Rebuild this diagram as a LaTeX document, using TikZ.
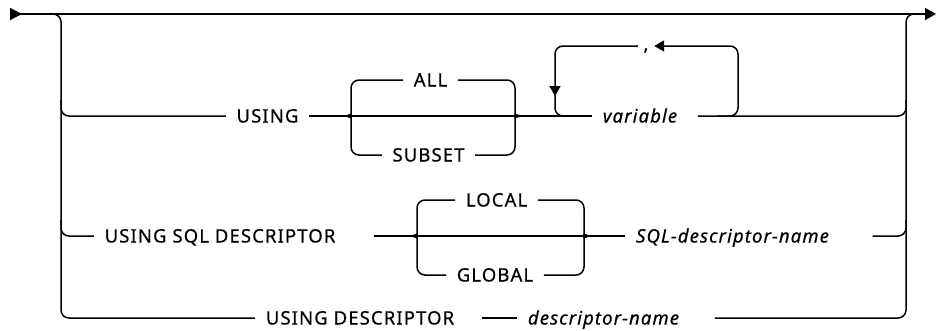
\documentclass[tikz,border=0pt]{standalone}
\usepackage{fontspec}
\setmainfont{Noto Sans}[LetterSpace=6, FakeBold=0.5]
\usepackage{tikz}
\usetikzlibrary{calc}
\usetikzlibrary{arrows.meta}

\tikzset{
    rr/.style={rounded corners=8pt},
    kw/.style={inner xsep=10pt, inner ysep=0pt, text height=13pt, text depth=0pt,
        font=\fontsize{18.5}{22}\selectfont},
    var/.style={kw, font=\fontsize{18.5}{22}\selectfont\itshape},
    tipsmall/.style={-{Triangle[length=10pt,width=11pt]}}
}

\begin{document}
\begin{tikzpicture}[x=1pt, y=-1pt, line width=1.5pt]
            \useasboundingbox (0,0) rectangle (936,330);

            % keywords and variables
            \node[kw] (kwusing) at (267.5,116) {USING};
            \node[kw] (kwall) at (430.5,80) {ALL};
            \node[kw] (kwsubset) at (428.5,155) {SUBSET};
            \node[var] (varname) at (640,116) {variable};
            \node[kw, inner xsep=5pt, text height=9pt] (comma) at (646,46) {,};
            \node[kw] (kwsql) at (220,236) {USING SQL DESCRIPTOR};
            \node[kw] (kwlocal) at (496.5,200) {LOCAL};
            \node[kw] (kwglobal) at (495,275) {GLOBAL};
            \node[var] (sqlname) at (732.5,236) {SQL-descriptor-name};
            \node[kw] (kwdesc) at (360,318) {USING DESCRIPTOR};
            \node[var] (descname) at (603.5,318) {descriptor-name};

            \coordinate (start) at (10,14);
            \coordinate (finish) at (936,14);
            \coordinate (lsplit) at (49,14);
            \coordinate (rjoin) at (918,14);
            \coordinate (b1l) at (344,116);
            \coordinate (b1r) at (522,116);
            \coordinate (b2l) at (410,236);
            \coordinate (b2r) at (591,236);
            \coordinate (loopl) at (577,116);
            \coordinate (loopr) at (718,116);

            % main line
            \draw[{Triangle[reversed,length=12pt,width=12pt]}-{Triangle[length=11pt,width=12pt]}] (start) -- (finish);

            % left split
            \draw[rr] (lsplit) -| (61,318) -- (kwdesc.west);
            \draw[rr] (61,100) |- (kwusing.west);
            \draw[rr] (61,220) |- (kwsql.west);

            % USING row
            \draw (kwusing.east) -- (varname.west);
            \draw[rr] (b1l) .. controls +(6,0) and +(0,6) .. ++(7,-9) |- (kwall.west);
            \draw[rr] (b1l) .. controls +(6,0) and +(0,-6) .. ++(7,9) |- (kwsubset.west);
            \draw[rr] (b1r) .. controls +(-6,0) and +(0,6) .. ++(-7,-9) |- (kwall.east);
            \draw[rr] (b1r) .. controls +(-6,0) and +(0,-6) .. ++(-7,9) |- (kwsubset.east);
            \draw[rr, tipsmall] (loopr) -| (738,46) -- (comma.east);
            \draw[rr, tipsmall] (comma.west) -| (555,96);
            \draw[rr] (555,92) |- (loopl);
            \draw[rr] ($(varname.east)+(10,0)$) -| (906,100);

            % USING SQL DESCRIPTOR row
            \draw ($(kwsql.east)+(28,0)$) -- (sqlname.west);
            \draw[rr] (b2l) .. controls +(6,0) and +(0,6) .. ++(7,-9) |- (kwlocal.west);
            \draw[rr] (b2l) .. controls +(6,0) and +(0,-6) .. ++(7,9) |- (kwglobal.west);
            \draw[rr] (b2r) .. controls +(-6,0) and +(0,6) .. ++(-7,-9) |- (kwlocal.east);
            \draw[rr] (b2r) .. controls +(-6,0) and +(0,-6) .. ++(-7,9) |- (kwglobal.east);
            \draw[rr] ($(sqlname.east)+(33,0)$) -| (906,220);

            % USING DESCRIPTOR row
            \draw ($(kwdesc.east)+(17,0)$) -- (descname.west);
            \draw[rr] ($(descname.east)+(25,0)$) -| (906,14) -- (rjoin);
        \end{tikzpicture}
\end{document}
